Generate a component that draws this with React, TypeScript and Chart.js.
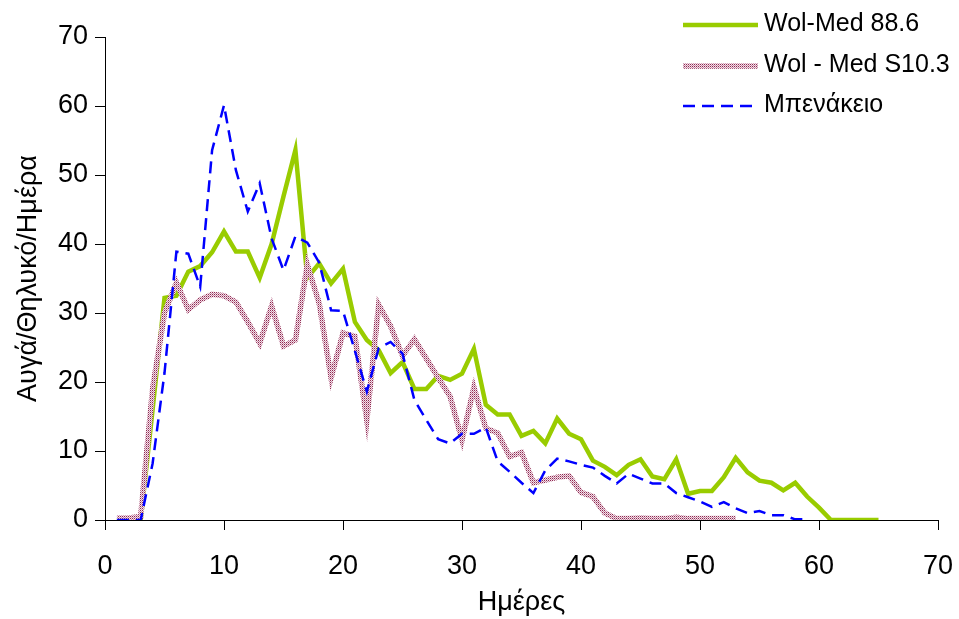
import React, { useEffect, useRef } from "react";
import { Chart, registerables } from "chart.js";

Chart.register(...registerables);

const FONT = '"Liberation Sans", Arial, Helvetica, sans-serif';

// Day numbers (x values)
const days = [
  1, 2, 3, 4, 5, 6, 7, 8, 9, 10, 11, 12, 13, 14, 15, 16, 17, 18, 19, 20,
  21, 22, 23, 24, 25, 26, 27, 28, 29, 30, 31, 32, 33, 34, 35, 36, 37, 38, 39, 40,
  41, 42, 43, 44, 45, 46, 47, 48, 49, 50, 51, 52, 53, 54, 55, 56, 57, 58, 59, 60,
  61, 62, 63, 64, 65,
];

// Wol-Med 88.6 (days 1..65)
const wolMed886 = [
  0, 0, 0, 16, 32.2, 32.5, 36, 36.8, 38.8, 41.8, 38.9, 38.9, 35.1, 40, 46.9, 53.6, 35.1, 37.2, 34.3, 36.4,
  28.7, 26.1, 24.6, 21.3, 22.9, 19.0, 19.0, 20.9, 20.3, 21.2, 24.8, 16.7, 15.3, 15.3, 12.2, 12.9, 11.1, 14.7, 12.5, 11.7,
  8.6, 7.7, 6.5, 8.0, 8.8, 6.3, 5.9, 8.8, 3.8, 4.2, 4.2, 6.2, 9.0, 6.9, 5.7, 5.4, 4.3, 5.4, 3.4, 1.8,
  0, 0, 0, 0, 0,
];

// Wol - Med S10.3 (days 1..53)
const wolMedS103 = [
  0.3, 0.3, 0.5, 19, 30, 34.4, 30.5, 31.9, 32.7, 32.5, 31.6, 28.7, 25.6, 31.0, 25.2, 26.1, 37.0, 31.4, 20.6, 27.1,
  26.6, 14.5, 31.2, 28.1, 23.8, 26.2, 23.4, 20.6, 17.9, 11.6, 19.2, 13.3, 12.6, 9.2, 9.8, 5.4, 5.8, 6.2, 6.4, 4.0,
  3.4, 1.0, 0.2, 0.2, 0.3, 0.2, 0.2, 0.4, 0.2, 0.2, 0.2, 0.2, 0.2,
];

// Μπενάκειο (days 1..59)
const benakeio = [
  0, 0, 0, 8.2, 21.3, 38.9, 38.6, 33.8, 53.6, 60.1, 50.7, 44.7, 48.8, 40.8, 36.2, 41.1, 40.2, 37.3, 30.4, 30.3,
  24.5, 18.6, 24.9, 25.8, 24.1, 17.4, 14.5, 11.7, 11.1, 12.5, 12.5, 13.4, 8.5, 7.0, 5.4, 3.9, 7.2, 8.9, 8.5, 8.0,
  7.6, 6.4, 5.3, 6.7, 6.0, 5.3, 5.3, 3.9, 3.3, 2.7, 1.9, 2.6, 1.7, 1.0, 1.3, 0.7, 0.7, 0.1, 0.1,
];

const seriesLabels = ["Wol-Med 88.6", "Wol - Med S10.3", "Μπενάκειο"];
const xTitle = "Ημέρες";
const yTitle = "Αυγά/Θηλυκό/Ημέρα";

function toPoints(vals: number[]) {
  return vals.map((v, i) => ({ x: days[i], y: v }));
}

function makePinkPattern(): CanvasPattern | string {
  const c = document.createElement("canvas");
  c.width = 2;
  c.height = 2;
  const g = c.getContext("2d");
  if (!g) return "#c58aa3";
  g.fillStyle = "#f2e2ea";
  g.fillRect(0, 0, 2, 2);
  g.fillStyle = "#902850";
  g.fillRect(0, 0, 1, 1);
  g.fillStyle = "#c78aa4";
  g.fillRect(1, 1, 1, 1);
  const p = g.createPattern(c, "repeat");
  return p || "#c58aa3";
}

const legendPlugin = {
  id: "customLegend",
  afterDraw(chart: any) {
    const ctx = chart.ctx as CanvasRenderingContext2D;
    const rows = [25, 66, 106];
    chart.data.datasets.forEach((ds: any, i: number) => {
      const y = rows[i];
      ctx.save();
      ctx.strokeStyle = ds.borderColor;
      ctx.lineWidth = ds.borderWidth;
      ctx.setLineDash(ds.borderDash || []);
      ctx.beginPath();
      ctx.moveTo(683, y);
      ctx.lineTo(758, y);
      ctx.stroke();
      ctx.setLineDash([]);
      ctx.fillStyle = "#000";
      ctx.font = `25px ${FONT}`;
      ctx.textBaseline = "middle";
      ctx.textAlign = "left";
      ctx.fillText(ds.label, 764, y - 1);
      ctx.restore();
    });
  },
};

export default function App() {
  const ref = useRef<HTMLCanvasElement | null>(null);

  useEffect(() => {
    if (!ref.current) return;
    const pink = makePinkPattern();
    const chart = new Chart(ref.current, {
      type: "line",
      data: {
        datasets: [
          {
            label: seriesLabels[0],
            data: toPoints(wolMed886),
            borderColor: "#99cc00",
            borderWidth: 4.5,
            pointRadius: 0,
            tension: 0,
            fill: false,
            order: 3,
          },
          {
            label: seriesLabels[1],
            data: toPoints(wolMedS103),
            borderColor: pink as any,
            borderWidth: 5.5,
            pointRadius: 0,
            tension: 0,
            fill: false,
            order: 2,
          },
          {
            label: seriesLabels[2],
            data: toPoints(benakeio),
            borderColor: "#0000ff",
            borderWidth: 2.5,
            borderDash: [12, 7],
            pointRadius: 0,
            tension: 0,
            fill: false,
            order: 1,
          },
        ],
      },
      options: {
        animation: false,
        responsive: true,
        maintainAspectRatio: false,
        layout: { padding: { top: 37, right: 21, left: 0, bottom: 0 } },
        plugins: {
          legend: { display: false },
          tooltip: { enabled: false },
        },
        scales: {
          x: {
            type: "linear",
            min: 0,
            max: 70,
            ticks: {
              stepSize: 10,
              color: "#000",
              font: { family: FONT, size: 27 },
              padding: 20,
              maxRotation: 0,
            },
            grid: {
              display: true,
              drawOnChartArea: false,
              drawTicks: true,
              tickLength: 10,
              color: "#000",
            },
            border: { display: true, color: "#000" },
            title: {
              display: true,
              text: xTitle,
              color: "#000",
              font: { family: FONT, size: 27 },
              padding: { top: 0, bottom: 0 },
            },
            afterFit: (s: any) => {
              s.height = 99;
              s.paddingLeft = 0;
              s.paddingRight = 0;
            },
          },
          y: {
            min: 0,
            max: 70,
            ticks: {
              stepSize: 10,
              color: "#000",
              font: { family: FONT, size: 27 },
              padding: 7,
            },
            grid: {
              display: true,
              drawOnChartArea: false,
              drawTicks: true,
              tickLength: 10,
              color: "#000",
            },
            border: { display: true, color: "#000" },
            title: {
              display: true,
              text: yTitle,
              color: "#000",
              font: { family: FONT, size: 27 },
              padding: { top: 12, bottom: 0 },
            },
            afterFit: (s: any) => {
              s.width = 105;
              s.paddingTop = 0;
              s.paddingBottom = 0;
            },
          },
        },
      },
      plugins: [legendPlugin],
    });
    return () => chart.destroy();
  }, []);

  return (
    <div style={{ position: "absolute", left: 0, top: 0, width: 959, height: 619 }}>
      <canvas ref={ref} />
    </div>
  );
}
